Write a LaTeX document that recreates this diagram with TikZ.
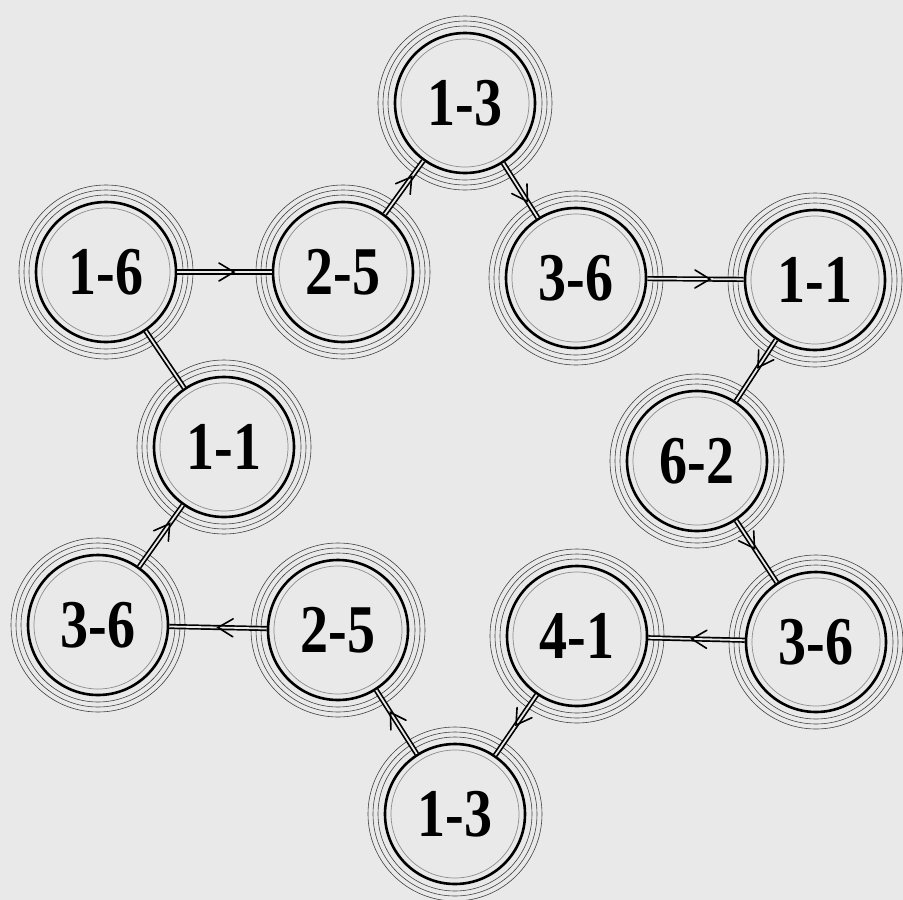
\documentclass[tikz,border=0pt]{standalone}
\usepackage{fontspec}
\setmainfont{Liberation Serif}
\usetikzlibrary{decorations.markings}
\definecolor{bg}{RGB}{233,233,233}
\newcommand\lab[1]{\scalebox{1}[1.22]{\fontsize{56}{56}\selectfont\bfseries #1}}
\tikzset{
 ball/.style={circle, draw=black, line width=2.6pt, fill=bg, minimum size=140pt, inner sep=0pt},
 innerring/.style={draw=black!45, line width=0.7pt},
 contour/.style={draw=black!75, line width=0.6pt},
 link/.style={draw=black, line width=1.7pt, double=bg, double distance=1.8pt},
 chev/.style={postaction={decorate}, decoration={markings, mark=at position #1 with {\draw[line width=1.6pt, black, line cap=round] (-15pt,9pt) -- (0pt,0pt) -- (-15pt,-9pt);}}},
}
\begin{document}
\begin{tikzpicture}[x=1pt,y=-1pt]
\fill[bg] (0,0) rectangle (903,900);
\useasboundingbox (0,0) rectangle (903,900);
\node[ball] (t13) at (465,103) {\lab{1-3}};
\node[ball] (a16) at (106,272) {\lab{1-6}};
\node[ball] (a25) at (343,272) {\lab{2-5}};
\node[ball] (b36) at (576,278) {\lab{3-6}};
\node[ball] (b11) at (815,280) {\lab{1-1}};
\node[ball] (c11) at (224,447) {\lab{1-1}};
\node[ball] (c62) at (697,461) {\lab{6-2}};
\node[ball] (d36) at (98,625) {\lab{3-6}};
\node[ball] (d25) at (338,630) {\lab{2-5}};
\node[ball] (e41) at (577,636) {\lab{4-1}};
\node[ball] (e36) at (816,642) {\lab{3-6}};
\node[ball] (f13) at (455,814) {\lab{1-3}};
\foreach \n in {t13,a16,a25,b36,b11,c11,c62,d36,d25,e41,e36,f13} {
  \draw[innerring] (\n.center) circle (64pt);
  \draw[contour] (\n.center) circle (77pt);
  \draw[contour] (\n.center) circle (82pt);
  \draw[contour] (\n.center) circle (87pt);
}
\draw[link, chev=0.6] (a16) -- (a25);
\draw[link, chev=0.7] (a25) -- (t13);
\draw[link, chev=0.7] (t13) -- (b36);
\draw[link, chev=0.65] (b36) -- (b11);
\draw[link, chev=0.45] (b11) -- (c62);
\draw[link, chev=0.45] (c62) -- (e36);
\draw[link, chev=0.55] (e36) -- (e41);
\draw[link, chev=0.5] (e41) -- (f13);
\draw[link, chev=0.65] (f13) -- (d25);
\draw[link, chev=0.5] (d25) -- (d36);
\draw[link, chev=0.7] (d36) -- (c11);
\draw[link] (c11) -- (a16);
\end{tikzpicture}
\end{document}
